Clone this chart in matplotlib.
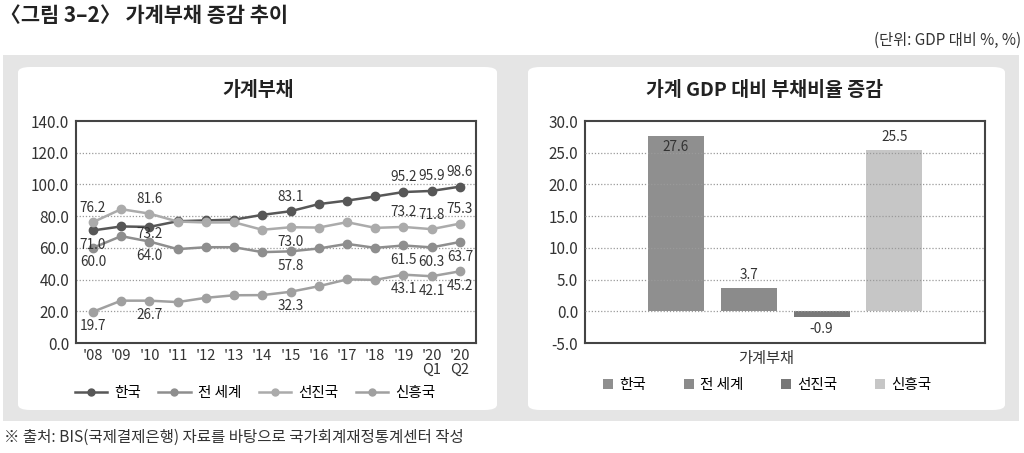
import matplotlib
matplotlib.use('Agg')
import matplotlib.pyplot as plt
from matplotlib.patches import FancyBboxPatch, Rectangle, Patch
from matplotlib.lines import Line2D

plt.rcParams['font.family'] = ['Noto Sans CJK KR', 'DejaVu Sans']

# data
years = ["'08", "'09", "'10", "'11", "'12", "'13", "'14", "'15", "'16", "'17",
         "'18", "'19", "'20\nQ1", "'20\nQ2"]
series_names = ['한국', '전 세계', '선진국', '신흥국']
korea = [71.0, 73.5, 73.2, 76.8, 77.3, 77.8, 80.8, 83.1, 87.6, 89.8, 92.4, 95.2, 95.9, 98.6]
world = [60.0, 67.4, 64.0, 59.2, 60.4, 60.4, 57.3, 57.8, 59.6, 62.5, 60.0, 61.5, 60.3, 63.7]
advanced = [76.2, 84.4, 81.6, 76.6, 76.0, 76.1, 71.4, 73.0, 72.8, 76.2, 72.6, 73.2, 71.8, 75.3]
emerging = [19.7, 26.7, 26.7, 25.8, 28.5, 30.1, 30.2, 32.3, 35.8, 40.1, 39.8, 43.1, 42.1, 45.2]
label_idx = [0, 2, 7, 11, 12, 13]
bar_values = [27.6, 3.7, -0.9, 25.5]

line_colors = ['#575757', '#8e8e8e', '#ababab', '#a0a0a0']
bar_colors = ['#8f8f8f', '#8b8b8b', '#787878', '#c6c6c6']
# label placement per series: 1 above, -1 below
label_pos = [
    [-1, -0.5, 1, 1, 1, 1],
    [-1, -1, -1, -1, -1, -1],
    [1, 1, -1, 1, 1, 1],
    [-1, -1, -1, -1, -1, -1],
]

W, H = 1024, 453
fig = plt.figure(figsize=(W / 100, H / 100), dpi=100)
fig.patch.set_facecolor('white')


def fx(x):
    return x / W


def fy(y):
    return 1 - y / H


# background panels (behind the axes)
fig.patches.append(Rectangle((fx(3), fy(421)), fx(1019) - fx(3), fy(55) - fy(421),
                             transform=fig.transFigure, facecolor='#e5e5e5',
                             edgecolor='none', zorder=-2))
for x0, x1 in [(18, 497), (528, 1005)]:
    fig.patches.append(FancyBboxPatch((fx(x0), fy(410)), fx(x1) - fx(x0), fy(67) - fy(410),
                                      boxstyle='round,pad=0,rounding_size=0.012',
                                      transform=fig.transFigure, facecolor='white',
                                      edgecolor='none', zorder=-1))

fig.text(fx(0), fy(15), '〈그림 3–2〉 가계부채 증감 추이', fontsize=15, fontweight='bold',
         va='center', ha='left', color='#222222')
fig.text(fx(1021), fy(40), '(단위: GDP 대비 %, %)', fontsize=11, va='center', ha='right',
         color='#333333')
fig.text(fx(4), fy(437), '※ 출처: BIS(국제결제은행) 자료를 바탕으로 국가회계재정통계센터 작성',
         fontsize=11.2, va='center', ha='left', color='#333333')

# left: line chart
ax1 = fig.add_axes([fx(76), fy(343), fx(476) - fx(76), fy(121) - fy(343)])
ax1.set_facecolor('none')
x = list(range(len(years)))
all_series = [korea, world, advanced, emerging]
for vals, name, col in zip(all_series, series_names, line_colors):
    ax1.plot(x, vals, color=col, lw=1.8, marker='o', ms=6, label=name, zorder=3)
for vals, pos in zip(all_series, label_pos):
    for i, p in zip(label_idx, pos):
        ax1.annotate(f'{vals[i]:.1f}', (x[i], vals[i]), xytext=(0, 10.5 * p),
                     textcoords='offset points', ha='center', va='center',
                     fontsize=9.8, color='#333333', zorder=4)
ax1.set_xlim(-0.6, 13.57)
ax1.set_ylim(0, 140)
ax1.set_yticks(range(0, 141, 20))
ax1.set_yticklabels([f'{v:.1f}' for v in range(0, 141, 20)])
ax1.set_xticks(x)
ax1.set_xticklabels(years, linespacing=1.0)
for v in range(20, 140, 20):
    ax1.axhline(v, color='#9a9a9a', lw=0.9, ls=(0, (1, 1.5)), zorder=1)
ax1.tick_params(length=0, labelsize=11, colors='#333333', pad=5)
ax1.tick_params(axis='x', labelsize=10.5, pad=4)
for s in ax1.spines.values():
    s.set_color('#444444')
    s.set_linewidth(1.5)
fig.text(fx(258), fy(91), '가계부채', fontsize=14, fontweight='bold', ha='center',
         va='center', color='#222222')
handles = [Line2D([], [], color=c, lw=1.8, marker='o', ms=5) for c in line_colors]
fig.legend(handles, series_names, loc='center', bbox_to_anchor=(fx(255), fy(393)),
           ncol=4, frameon=False, fontsize=10.5, handlelength=2.2, handletextpad=0.5,
           columnspacing=1.2)

# right: bar chart
ax2 = fig.add_axes([fx(585), fy(343), fx(985) - fx(585), fy(121) - fy(343)])
ax2.set_facecolor('none')
bx = list(range(len(bar_values)))
ax2.bar(bx, bar_values, width=0.77, color=bar_colors, zorder=2)
for i, v in enumerate(bar_values):
    if i == 0:
        ax2.text(i, v - 1.7, f'{v:.1f}', ha='center', va='center', fontsize=9.8, color='#333333')
    elif v >= 0:
        ax2.annotate(f'{v:.1f}', (i, v), xytext=(0, 9), textcoords='offset points',
                     ha='center', va='center', fontsize=9.8, color='#333333')
    else:
        ax2.annotate(f'{v:.1f}', (i, v), xytext=(0, -9), textcoords='offset points',
                     ha='center', va='center', fontsize=9.8, color='#333333')
ax2.set_xlim(-1.25, 4.245)
ax2.set_ylim(-5, 30)
yt = [-5, 0, 5, 10, 15, 20, 25, 30]
ax2.set_yticks(yt)
ax2.set_yticklabels([f'{v:.1f}' for v in yt])
ax2.set_xticks([])
for v in [0, 5, 10, 15, 20, 25]:
    ax2.axhline(v, color='#9a9a9a', lw=0.9, ls=(0, (1, 1.5)), zorder=3)
ax2.tick_params(length=0, labelsize=11, colors='#333333', pad=5)
for s in ax2.spines.values():
    s.set_color('#444444')
    s.set_linewidth(1.5)
fig.text(fx(765), fy(91), '가계 GDP 대비 부채비율 증감', fontsize=14, fontweight='bold',
         ha='center', va='center', color='#222222')
fig.text(fx(766), fy(358), '가계부채', fontsize=11, ha='center', va='center', color='#333333')
bhandles = [Patch(facecolor=c, edgecolor='none') for c in bar_colors]
fig.legend(bhandles, series_names, loc='center', bbox_to_anchor=(fx(767), fy(385)),
           ncol=4, frameon=False, fontsize=10.5, handlelength=0.7, handleheight=0.7,
           handletextpad=0.4, columnspacing=2.6)

fig.savefig('out.png', dpi=100)
